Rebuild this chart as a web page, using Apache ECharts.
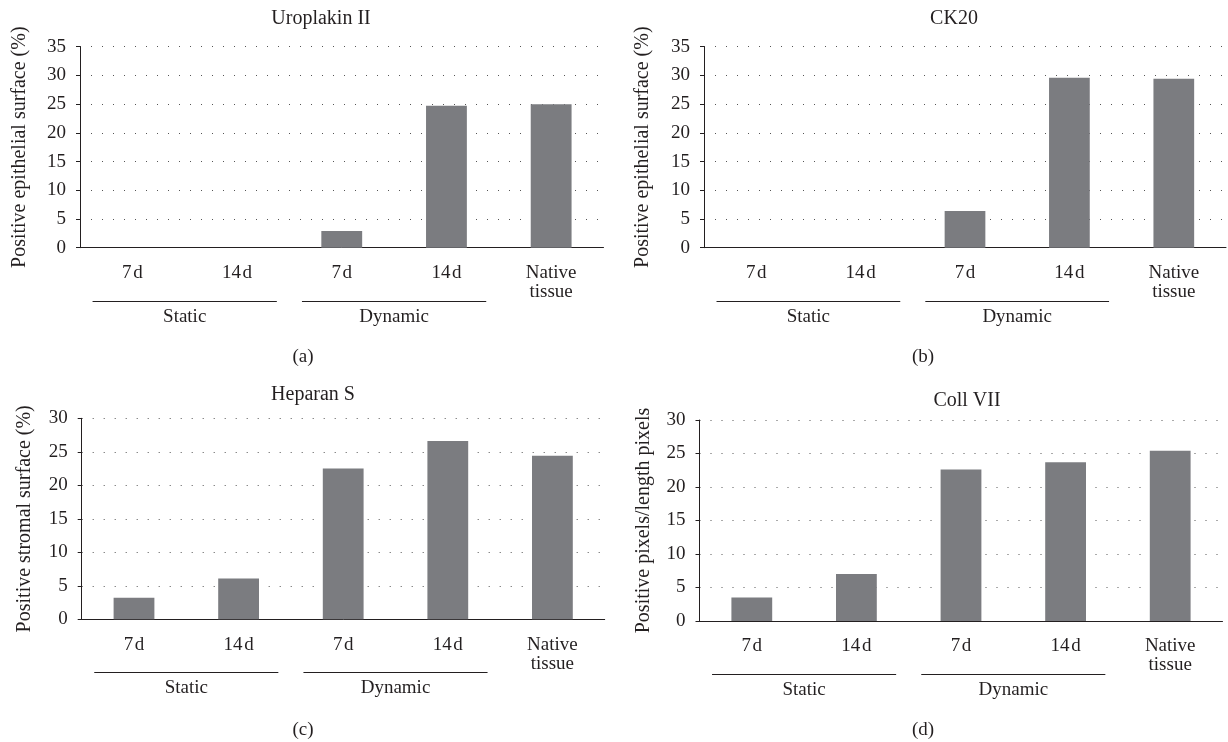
<!DOCTYPE html>
<html>
<head>
<meta charset="utf-8">
<script src="https://cdn.jsdelivr.net/npm/echarts@6/dist/echarts.min.js"></script>
<style>
  html, body { margin: 0; padding: 0; background: #fff; }
  #main { width: 1228px; height: 742px; }
</style>
</head>
<body>
<div id="main"></div>
<script>
// data
const categories = ['7\u200Ad', '14\u200Ad', '7\u200Ad', '14\u200Ad', 'Native\ntissue'];
const groups = ['Static', 'Dynamic'];
const uroplakin = [0, 0, 2.9, 24.7, 25.0];
const ck20 = [0, 0, 6.4, 29.6, 29.4];
const heparan = [3.2, 6.1, 22.5, 26.6, 24.4];
const coll7 = [3.5, 7.0, 22.6, 23.7, 25.4];
const titles = ['Uroplakin II', 'CK20', 'Heparan S', 'Coll VII'];
const yNames = [
  'Positive epithelial surface (%)',
  'Positive epithelial surface (%)',
  'Positive stromal surface (%)',
  'Positive pixels/length pixels'
];
const yMax = [35, 35, 30, 30];
const captions = ['(a)', '(b)', '(c)', '(d)'];

const FONT = '"Liberation Serif", "DejaVu Serif", serif';
const INK = '#231f20';
const BAR = '#7b7c80';
const FS = 19;

// layout of the four panels
let panels = [
  { data: uroplakin, left: 80, top: 46.7, width: 523.5, height: 201, nameGap: 50, title: [321, 19], cap: [303, 357] },
  { data: ck20, left: 704, top: 46.7, width: 522, height: 201, nameGap: 51, title: [954, 19], cap: [923, 357] },
  { data: heparan, left: 81.7, top: 418.3, width: 523, height: 201, nameGap: 47, title: [313, 395], cap: [303, 730] },
  { data: coll7, left: 699.5, top: 420, width: 523, height: 201, nameGap: 46, title: [967, 401], cap: [923, 730] }
];

function txt(x, y, s, size) {
  return {
    type: 'text', x: x, y: y, silent: true,
    style: { text: s, fill: INK, fontSize: size || FS, fontFamily: FONT, align: 'center', verticalAlign: 'middle' }
  };
}

let option = {
  animation: false,
  backgroundColor: '#fff',
  grid: panels.map(p => ({ left: p.left, top: p.top, width: p.width, height: p.height })),
  xAxis: panels.map((p, i) => ({
    type: 'category',
    gridIndex: i,
    data: categories,
    axisLine: { lineStyle: { color: INK, width: 1 } },
    axisTick: { length: 6, lineStyle: { color: INK } },
    axisLabel: { interval: 0, margin: 16, color: INK, fontSize: FS, lineHeight: 19, fontFamily: FONT },
    splitLine: { show: false }
  })),
  yAxis: panels.map((p, i) => ({
    type: 'value',
    gridIndex: i,
    min: 0,
    max: yMax[i],
    interval: 5,
    name: yNames[i],
    nameLocation: 'middle',
    nameGap: p.nameGap,
    nameTextStyle: { color: INK, fontSize: 20, fontFamily: FONT },
    axisLine: { show: true, lineStyle: { color: INK, width: 1 } },
    axisTick: { show: true, length: 4, lineStyle: { color: INK } },
    axisLabel: { margin: 14, color: INK, fontSize: FS, fontFamily: FONT },
    splitLine: { show: true, lineStyle: { color: '#555', width: 1, type: [1, 10] } }
  })),
  series: panels.map((p, i) => ({
    type: 'bar',
    xAxisIndex: i,
    yAxisIndex: i,
    data: p.data,
    barWidth: '39%',
    itemStyle: { color: BAR },
    silent: true
  })),
  graphic: []
};

const chart = echarts.init(document.getElementById('main'));
chart.setOption(option);

// titles, captions, and the Static / Dynamic group brackets under the axis
let extra = [];
panels.forEach((p, i) => {
  extra.push(txt(p.title[0], p.title[1], titles[i], 20));
  extra.push(txt(p.cap[0], p.cap[1], captions[i]));
  let c0 = chart.convertToPixel({ gridIndex: i }, [0, 0]);
  let c1 = chart.convertToPixel({ gridIndex: i }, [1, 0]);
  let step = c1[0] - c0[0];
  groups.forEach((g, k) => {
    let a = chart.convertToPixel({ gridIndex: i }, [2 * k, 0])[0];
    let b = chart.convertToPixel({ gridIndex: i }, [2 * k + 1, 0])[0];
    let ly = Math.round(c0[1] + 53) + 0.5;
    extra.push({
      type: 'line', silent: true,
      shape: { x1: a - 0.38 * step, y1: ly, x2: b + 0.38 * step, y2: ly },
      style: { stroke: INK, lineWidth: 1 }
    });
    extra.push(txt((a + b) / 2, c0[1] + 69, g));
  });
});
chart.setOption({ graphic: extra });
</script>
</body>
</html>
